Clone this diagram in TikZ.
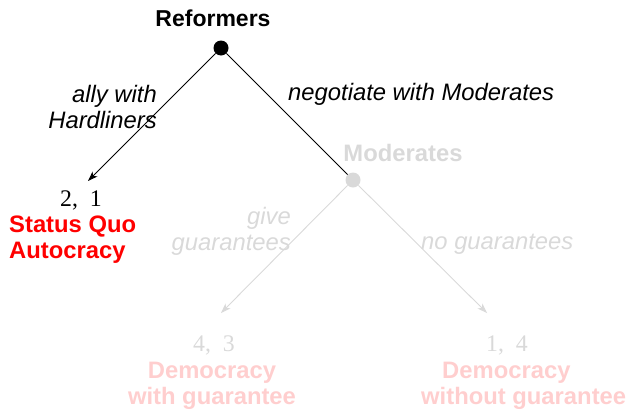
\documentclass[tikz,border=0pt]{standalone}
\usepackage{fontspec}
\setmainfont{Liberation Sans}
\newfontfamily\payfont{Liberation Serif}
\usetikzlibrary{arrows.meta}
\definecolor{fadegray}{RGB}{217,217,217}
\definecolor{fadepink}{RGB}{255,206,206}
\definecolor{strongred}{RGB}{255,0,0}
\tikzset{
  dotnode/.style={circle, fill=#1, inner sep=0pt, minimum size=15pt},
  player/.style={font=\fontsize{23.8}{26}\selectfont\bfseries, inner sep=0pt},
  act/.style={font=\fontsize{23.8}{26}\selectfont\itshape, inner sep=0pt},
  pay/.style={font=\fontsize{23.8}{26}\selectfont\payfont, inner sep=0pt},
  outcome/.style={font=\fontsize{23.8}{26}\selectfont\bfseries, inner sep=0pt},
  branch/.style={line width=0.9pt},
  tip/.style={-{Stealth[length=10pt,width=7pt,inset=3pt]}}
}
\begin{document}
\begin{tikzpicture}[x=1pt,y=-1pt]
\useasboundingbox (0,0) rectangle (629,410);
% nodes
\node[dotnode=black] (ref) at (221,48) {};
\node[dotnode=fadegray] (mod) at (353,180) {};
\coordinate (sq) at (88,181);
\coordinate (dwg) at (221,313);
\coordinate (dng) at (487,313);
% labels
\node[player, font=\fontsize{23}{26}\selectfont\bfseries] (reflab) at (213,18) {Reformers};
\node[player, text=fadegray] (modlab) at (403,153) {Moderates};
% edges
\draw[branch, tip] (ref) -- (sq);
\draw[branch] (ref) -- (mod);
\draw[branch, tip, fadegray] (mod) -- (dwg);
\draw[branch, tip, fadegray] (mod) -- (dng);
% action labels
\node[act, align=right, anchor=east] (a1) at (157,107) {ally with\\Hardliners};
\node[act, anchor=west] (a2) at (288,94) {negotiate with Moderates};
\node[act, align=right, anchor=east, text=fadegray] (a3) at (291,231) {give\\guarantees};
\node[act, anchor=west, text=fadegray] (a4) at (421,244) {no guarantees};
% payoffs
\node[pay] (p1) at (81,200) {2,\enspace1};
\node[pay, text=fadegray] (p2) at (214,345) {4,\enspace3};
\node[pay, text=fadegray] (p3) at (507,345) {1,\enspace4};
% outcomes
\node[outcome, align=left, anchor=west, text=strongred] (o1) at (9,240) {Status Quo\\Autocracy};
\node[outcome, align=center, text=fadepink] (o2) at (212,386) {Democracy\\with guarantee};
\node[outcome, align=left, anchor=west, text=fadepink] (o3) at (421,386) {\hspace*{21pt}Democracy\\without guarantee};
\end{tikzpicture}
\end{document}
